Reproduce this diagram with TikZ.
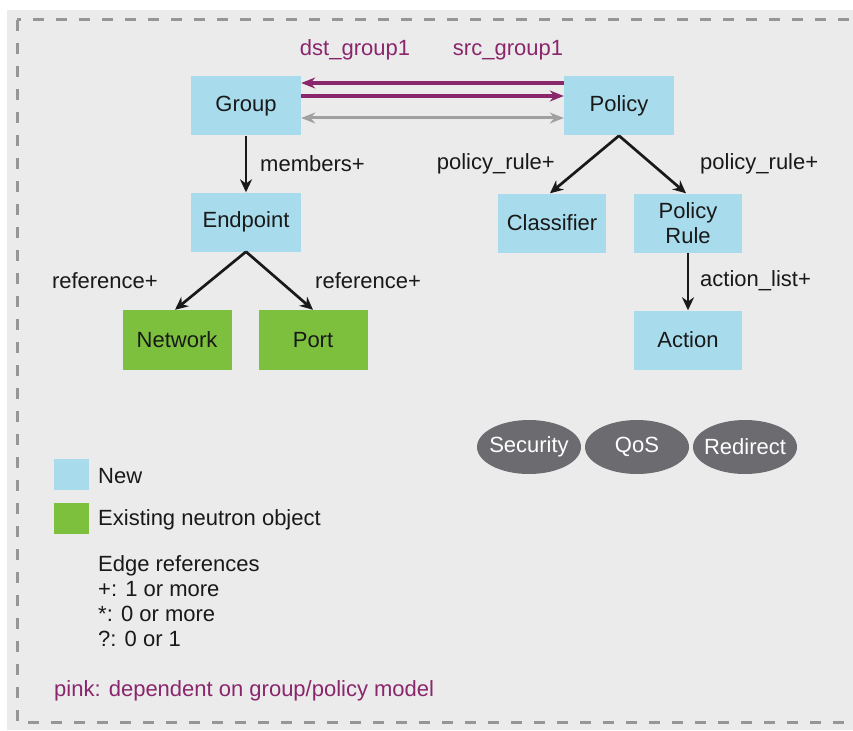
\documentclass[tikz,border=0pt]{standalone}
\usepackage{fontspec}
\setmainfont{Liberation Sans}
\usetikzlibrary{arrows.meta,shapes.geometric}
\definecolor{bggray}{RGB}{235,235,235}
\definecolor{framegray}{RGB}{150,150,150}
\definecolor{newblue}{RGB}{168,220,236}
\definecolor{oldgreen}{RGB}{125,192,62}
\definecolor{pillgray}{RGB}{108,108,112}
\definecolor{pink}{RGB}{138,38,108}
\definecolor{linkgray}{RGB}{160,160,160}
\definecolor{ink}{RGB}{25,25,25}
\newcommand{\pilltext}[1]{\makebox[0pt]{#1}}
\tikzset{
  txt/.style={font=\fontsize{22}{25.5}\selectfont, text=ink, inner sep=0pt},
  newbox/.style={txt, fill=newblue, minimum width=110pt, minimum height=59pt, align=center},
  oldbox/.style={txt, fill=oldgreen, minimum width=109pt, minimum height=60pt},
  pill/.style={ellipse, fill=pillgray, minimum width=104pt, minimum height=54pt, inner sep=0pt,
    font=\fontsize{22}{25}\selectfont, text=white},
  ref/.style={draw=ink, line width=2.7pt, -{Stealth[length=13pt,width=12pt]}},
  pinkref/.style={draw=pink, line width=3.1pt, -{Stealth[length=14pt,width=11pt]}},
  grayref/.style={draw=linkgray, line width=3pt, {Stealth[length=14pt,width=11pt]}-{Stealth[length=14pt,width=11pt]}},
  lbl/.style={txt},
  swatch/.style={minimum width=35pt, minimum height=31pt, inner sep=0pt},
}
\begin{document}
\begin{tikzpicture}[x=1pt,y=-1pt]
\useasboundingbox (0,0) rectangle (853,730);
\fill[white] (0,0) rectangle (853,730);
\fill[bggray] (7,10) rectangle (853,730);
\draw[framegray, line width=3pt, dash pattern=on 11pt off 12pt] (17,20) rectangle (858,722);

% object boxes
\node[newbox] (group)    at (246,106) {Group};
\node[newbox] (policy)   at (619,106) {Policy};
\node[newbox] (endpoint) at (246,222) {Endpoint};
\node[newbox, minimum width=108pt] (classifier) at (552,223) {Classifier};
\node[newbox, minimum width=108pt] (prule)      at (688,223) {Policy\\Rule};
\node[oldbox] (network)  at (177,340) {Network};
\node[oldbox] (port)     at (313,340) {Port};
\node[newbox, minimum width=108pt] (action) at (688,340) {Action};

% group <-> policy links
\draw[pinkref] ([yshift=23pt]policy.west) -- ([yshift=23pt]group.east);
\draw[pinkref] ([yshift=10pt]group.east) -- ([yshift=10pt]policy.west);
\draw[grayref] ([yshift=-12pt]group.east) -- ([yshift=-12pt]policy.west);
\node[txt, text=pink] (dstlbl) at (355,50) {dst\_group1};
\node[txt, text=pink] (srclbl) at (508,50) {src\_group1};

% references
\draw[ref] (group.south) -- (endpoint.north);
\node[lbl, anchor=west] (memlbl) at (260,164) {members+};
\draw[ref] (endpoint.south) -- ([xshift=-2pt]network.north);
\draw[ref] (endpoint.south) -- (port.north);
\node[lbl, anchor=east] (reflbl1) at (158,281) {reference+};
\node[lbl, anchor=west] (reflbl2) at (315,281) {reference+};
\draw[ref] (policy.south) -- ([xshift=-2pt]classifier.north);
\draw[ref] (policy.south) -- ([xshift=-2pt]prule.north);
\node[lbl, anchor=east] (prlbl1) at (555,164) {policy\_rule+};
\node[lbl, anchor=west] (prlbl2) at (700,164) {policy\_rule+};
\draw[ref] (prule.south) -- (action.north);
\node[lbl, anchor=west] (allbl) at (700,281) {action\_list+};

% action types
\node[pill] (security) at (529,447) {\pilltext{Security}};
\node[pill] (qos)      at (637,447) {\pilltext{QoS}};
\node[pill] (redirect) at (745,447) {\pilltext{Redirect}};

% legend
\node[swatch, fill=newblue]  (keynew) at (71.5,474.5) {};
\node[swatch, fill=oldgreen] (keyold) at (71.5,518) {};
\node[lbl, anchor=west] (keynewtxt) at (98,476) {New};
\node[lbl, anchor=west] (keyoldtxt) at (98,520) {Existing neutron object};
\node[lbl, anchor=north west, align=left, font=\fontsize{22}{25}\selectfont] (edgekey) at (98,555)
  {Edge references\\+: 1 or more\\*: 0 or more\\?: 0 or 1};
\node[txt, text=pink, anchor=west] (pinknote) at (54,691) {pink: dependent on group/policy model};
\end{tikzpicture}
\end{document}
